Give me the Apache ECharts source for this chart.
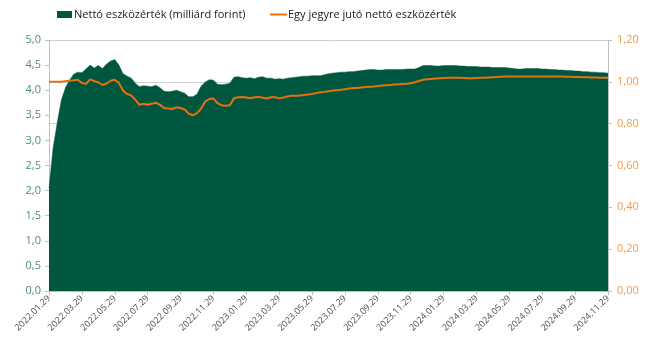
<!DOCTYPE html>
<html>
<head>
<meta charset="utf-8">
<script src="https://cdn.jsdelivr.net/npm/echarts@6/dist/echarts.min.js"></script>
<style>
  html, body { margin: 0; padding: 0; background: #fff; }
  #chart { width: 649px; height: 347px; }
</style>
</head>
<body>
<div id="chart"></div>
<script>
// Labelled dates on the horizontal axis (every second month)
const tickLabels = [
  '2022.01.29', '2022.03.29', '2022.05.29', '2022.07.29', '2022.09.29', '2022.11.29',
  '2023.01.29', '2023.03.29', '2023.05.29', '2023.07.29', '2023.09.29', '2023.11.29',
  '2024.01.29', '2024.03.29', '2024.05.29', '2024.07.29', '2024.09.29', '2024.11.29'
];

// Intermediate observation days within each month
const midDays = ['06', '14', '21'];

// Net asset value, billion HUF
const netAssets = [
  2.05, 2.85, 3.35, 3.80, 4.05, 4.20, 4.32, 4.36, 4.35, 4.42, 4.50, 4.44, 4.49, 4.43, 4.52, 4.58,
  4.61, 4.50, 4.33, 4.28, 4.24, 4.14, 4.07, 4.09, 4.08, 4.07, 4.10, 4.05, 3.98, 3.97, 3.98, 4.00,
  3.97, 3.94, 3.87, 3.87, 3.92, 4.08, 4.16, 4.21, 4.20, 4.12, 4.11, 4.12, 4.14, 4.26, 4.27, 4.25,
  4.24, 4.25, 4.23, 4.26, 4.27, 4.24, 4.24, 4.22, 4.23, 4.22, 4.24, 4.25, 4.26, 4.27, 4.28, 4.28,
  4.29, 4.29, 4.29, 4.31, 4.33, 4.34, 4.35, 4.36, 4.36, 4.37, 4.37, 4.38, 4.39, 4.40, 4.41, 4.41,
  4.40, 4.40, 4.41, 4.41, 4.41, 4.41, 4.41, 4.42, 4.42, 4.42, 4.45, 4.49, 4.49, 4.49, 4.48, 4.48,
  4.49, 4.49, 4.49, 4.49, 4.48, 4.48, 4.47, 4.47, 4.47, 4.46, 4.46, 4.46, 4.45, 4.45, 4.45, 4.45,
  4.44, 4.43, 4.42, 4.42, 4.43, 4.43, 4.43, 4.43, 4.42, 4.42, 4.41, 4.41, 4.40, 4.40, 4.39, 4.39,
  4.38, 4.38, 4.37, 4.37, 4.36, 4.36, 4.35, 4.35, 4.34
];

// Net asset value per unit
const navPerUnit = [
  1.000, 1.000, 1.000, 1.000, 1.003, 1.005, 1.007, 1.010, 0.995, 0.990, 1.012, 1.003, 0.998, 0.985, 0.992, 1.005,
  1.010, 0.995, 0.958, 0.942, 0.935, 0.915, 0.890, 0.895, 0.890, 0.895, 0.900, 0.890, 0.875, 0.872, 0.870, 0.878,
  0.875, 0.868, 0.848, 0.840, 0.850, 0.872, 0.905, 0.918, 0.920, 0.898, 0.888, 0.886, 0.888, 0.922, 0.926, 0.928,
  0.925, 0.922, 0.926, 0.928, 0.924, 0.920, 0.926, 0.926, 0.921, 0.925, 0.930, 0.934, 0.934, 0.935, 0.937, 0.940,
  0.942, 0.946, 0.950, 0.952, 0.955, 0.958, 0.960, 0.962, 0.965, 0.968, 0.970, 0.971, 0.973, 0.975, 0.977, 0.978,
  0.980, 0.982, 0.984, 0.985, 0.987, 0.988, 0.990, 0.991, 0.993, 0.998, 1.004, 1.010, 1.012, 1.014, 1.016, 1.017,
  1.018, 1.019, 1.020, 1.020, 1.019, 1.018, 1.017, 1.017, 1.018, 1.019, 1.020, 1.021, 1.022, 1.023, 1.024, 1.025,
  1.025, 1.026, 1.026, 1.026, 1.025, 1.025, 1.025, 1.025, 1.025, 1.025, 1.025, 1.025, 1.025, 1.025, 1.024, 1.024,
  1.023, 1.023, 1.022, 1.022, 1.021, 1.021, 1.020, 1.020, 1.020
];

// Build the date categories: each month's 29th (last day of February) plus three mid-month days
function buildCategories() {
  const out = [];
  const endY = 2024, endM = 11;
  let y = 2022, m = 1;
  const pad = n => (n < 10 ? '0' : '') + n;
  while (y < endY || (y === endY && m < endM)) {
    const last = new Date(y, m, 0).getDate();
    out.push(y + '.' + pad(m) + '.' + pad(Math.min(29, last)));
    let ny = y, nm = m + 1;
    if (nm > 12) { nm = 1; ny++; }
    midDays.forEach(d => out.push(ny + '.' + pad(nm) + '.' + d));
    y = ny; m = nm;
  }
  out.push(tickLabels[tickLabels.length - 1]);
  return out;
}
const categories = buildCategories();

const GREEN = '#00573F';
const ORANGE = '#E8700F';
const FONT = '"Open Sans", "Noto Sans", sans-serif';

const chart = echarts.init(document.getElementById('chart'), null, { renderer: 'canvas' });

chart.setOption({
  animation: false,
  backgroundColor: '#ffffff',
  textStyle: { fontFamily: FONT },
  legend: [
    {
      data: [{ name: 'Nettó eszközérték (milliárd forint)', icon: 'rect' }],
      left: 57, top: 9, padding: 0,
      itemWidth: 15, itemHeight: 7,
      textStyle: { fontSize: 11, color: '#1a1a1a', fontFamily: FONT, padding: [0, 0, 0, -3] }
    },
    {
      data: [{ name: 'Egy jegyre jutó nettó eszközérték', icon: 'rect' }],
      left: 270, top: 9, padding: 0,
      itemWidth: 17, itemHeight: 2,
      textStyle: { fontSize: 11, color: '#1a1a1a', fontFamily: FONT, padding: [0, 0, 0, -4] }
    }
  ],
  grid: { left: 49, right: 41, top: 40, bottom: 56, containLabel: false },
  xAxis: {
    type: 'category',
    data: categories,
    boundaryGap: false,
    axisLine: { show: true, lineStyle: { color: '#BFBFBF', width: 1 } },
    axisTick: { show: true, interval: 7, length: 4, lineStyle: { color: '#BFBFBF' } },
    axisLabel: {
      interval: 7,
      rotate: 45,
      fontSize: 9,
      color: '#4D4D4D',
      margin: 6,
      fontFamily: FONT
    },
    splitLine: { show: false }
  },
  yAxis: [
    {
      type: 'value',
      min: 0, max: 5, interval: 0.5,
      position: 'left',
      axisLine: { show: true, lineStyle: { color: '#BFBFBF' } },
      axisTick: { show: true, length: 4, lineStyle: { color: '#BFBFBF' } },
      axisLabel: {
        color: '#4E8C75', fontSize: 11, margin: 8, fontFamily: FONT,
        formatter: v => v.toFixed(1).replace('.', ',')
      },
      splitLine: { show: false }
    },
    {
      type: 'value',
      min: 0, max: 1.2, interval: 0.2,
      position: 'right',
      axisLine: { show: true, lineStyle: { color: '#BFBFBF' } },
      axisTick: { show: true, length: 4, lineStyle: { color: '#BFBFBF' } },
      axisLabel: {
        color: '#F29B4E', fontSize: 11, margin: 9, fontFamily: FONT,
        formatter: v => v.toFixed(2).replace('.', ',')
      },
      splitLine: { show: true, lineStyle: { color: '#CFCFCF', width: 1 } }
    }
  ],
  series: [
    {
      name: 'Nettó eszközérték (milliárd forint)',
      type: 'line',
      yAxisIndex: 0,
      data: netAssets,
      showSymbol: false,
      smooth: false,
      color: GREEN,
      lineStyle: { width: 0.5, color: GREEN },
      areaStyle: { color: GREEN, opacity: 1 },
      z: 2
    },
    {
      name: 'Egy jegyre jutó nettó eszközérték',
      type: 'line',
      yAxisIndex: 1,
      data: navPerUnit,
      showSymbol: false,
      smooth: false,
      color: ORANGE,
      lineStyle: { width: 2, color: ORANGE },
      z: 3
    }
  ]
});
</script>
</body>
</html>
